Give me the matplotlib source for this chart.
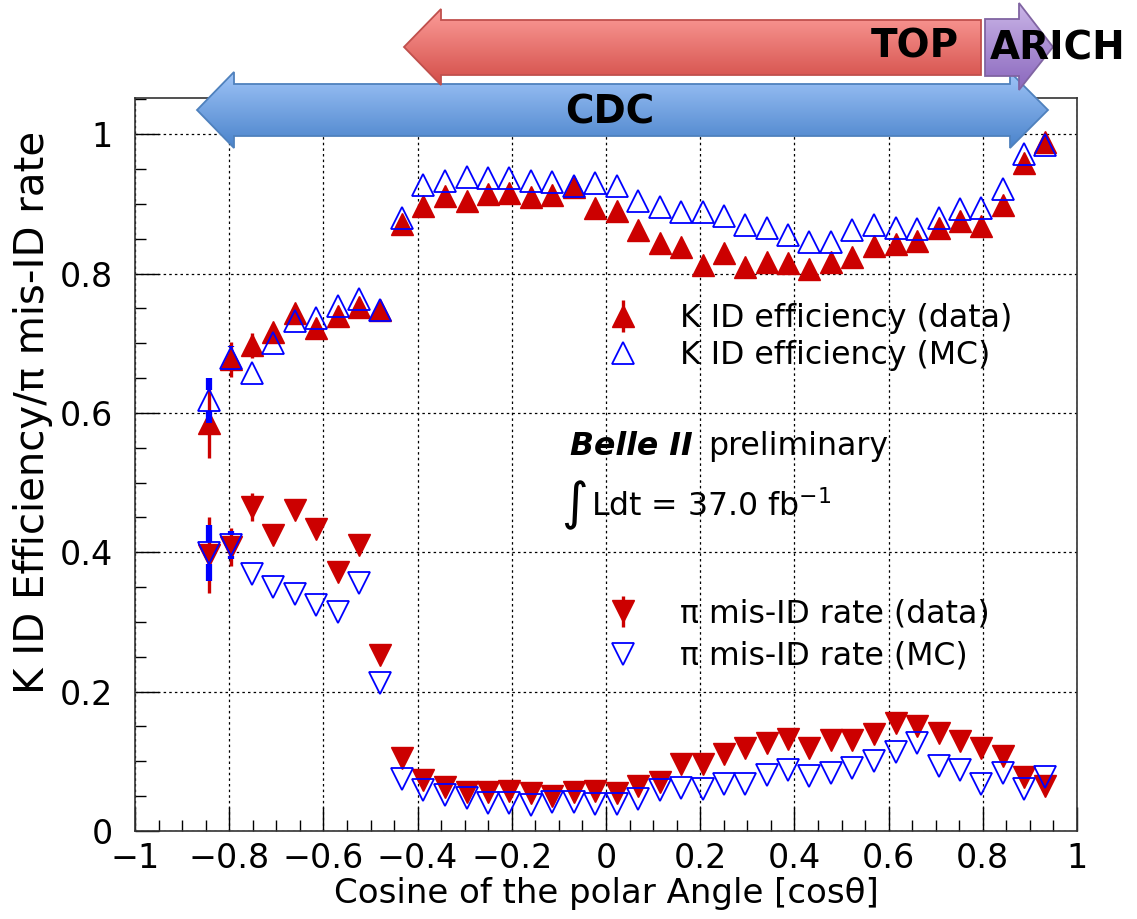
import numpy as np
import matplotlib
matplotlib.use('Agg')
import matplotlib.pyplot as plt
from matplotlib.patches import Polygon
from matplotlib.colors import LinearSegmentedColormap
from matplotlib.ticker import MultipleLocator

plt.rcParams['font.family'] = ['DejaVu Sans']
plt.rcParams['mathtext.fontset'] = 'dejavusans'

# bin centres in cos(theta)
cos_theta = [-0.843, -0.797, -0.752, -0.706, -0.661, -0.615, -0.570, -0.524, -0.479, -0.433,
             -0.388, -0.342, -0.296, -0.251, -0.205, -0.160, -0.114, -0.069, -0.023, 0.023,
             0.068, 0.114, 0.159, 0.205, 0.250, 0.296, 0.341, 0.387, 0.432, 0.478,
             0.523, 0.569, 0.615, 0.660, 0.706, 0.751, 0.797, 0.842, 0.888, 0.933]

k_eff_data = [0.586, 0.677, 0.697, 0.716, 0.743, 0.722, 0.739, 0.752, 0.748, 0.871,
              0.897, 0.912, 0.904, 0.914, 0.916, 0.910, 0.913, 0.924, 0.894, 0.890,
              0.862, 0.844, 0.838, 0.812, 0.830, 0.810, 0.816, 0.815, 0.806, 0.817,
              0.824, 0.839, 0.843, 0.847, 0.866, 0.876, 0.868, 0.899, 0.959, 0.989]
k_eff_data_err = [0.050, 0.025, 0.018, 0.010, 0.008, 0.008, 0.006, 0.006, 0.006, 0.005,
                  0.004, 0.004, 0.004, 0.004, 0.004, 0.004, 0.004, 0.004, 0.004, 0.004,
                  0.004, 0.004, 0.004, 0.004, 0.004, 0.004, 0.004, 0.004, 0.004, 0.004,
                  0.004, 0.004, 0.004, 0.004, 0.004, 0.004, 0.004, 0.004, 0.004, 0.004]

k_eff_mc = [0.618, 0.679, 0.658, 0.700, 0.732, 0.736, 0.754, 0.763, 0.748, 0.880,
            0.927, 0.933, 0.938, 0.937, 0.937, 0.933, 0.931, 0.926, 0.930, 0.926,
            0.904, 0.896, 0.889, 0.888, 0.882, 0.870, 0.866, 0.855, 0.846, 0.846,
            0.862, 0.870, 0.866, 0.864, 0.880, 0.893, 0.894, 0.922, 0.971, 0.985]
k_eff_mc_err = [0.032, 0.017, 0.010, 0.008, 0.006, 0.006, 0.005, 0.005, 0.005, 0.004,
                0.003, 0.003, 0.003, 0.003, 0.003, 0.003, 0.003, 0.003, 0.003, 0.003,
                0.003, 0.003, 0.003, 0.003, 0.003, 0.003, 0.003, 0.003, 0.003, 0.003,
                0.003, 0.003, 0.003, 0.003, 0.003, 0.003, 0.003, 0.003, 0.003, 0.003]

pi_misid_data = [0.396, 0.408, 0.465, 0.425, 0.461, 0.434, 0.372, 0.410, 0.253, 0.105,
                 0.073, 0.063, 0.056, 0.056, 0.057, 0.055, 0.050, 0.056, 0.057, 0.054,
                 0.064, 0.070, 0.096, 0.096, 0.110, 0.119, 0.127, 0.132, 0.119, 0.130,
                 0.130, 0.139, 0.155, 0.150, 0.140, 0.129, 0.119, 0.107, 0.078, 0.065]
pi_misid_data_err = [0.055, 0.027, 0.020, 0.012, 0.010, 0.010, 0.008, 0.008, 0.006, 0.004,
                     0.003, 0.003, 0.003, 0.003, 0.003, 0.003, 0.003, 0.003, 0.003, 0.003,
                     0.003, 0.003, 0.003, 0.003, 0.003, 0.003, 0.003, 0.003, 0.003, 0.003,
                     0.003, 0.003, 0.003, 0.003, 0.003, 0.003, 0.003, 0.003, 0.003, 0.003]

pi_misid_mc = [0.399, 0.410, 0.369, 0.350, 0.340, 0.324, 0.314, 0.356, 0.213, 0.075,
               0.059, 0.052, 0.047, 0.040, 0.040, 0.038, 0.041, 0.041, 0.039, 0.039,
               0.046, 0.059, 0.062, 0.060, 0.068, 0.068, 0.080, 0.088, 0.079, 0.083,
               0.090, 0.100, 0.113, 0.126, 0.094, 0.088, 0.068, 0.083, 0.060, 0.078]
pi_misid_mc_err = [0.040, 0.020, 0.010, 0.008, 0.006, 0.006, 0.005, 0.005, 0.005, 0.003,
                   0.002, 0.002, 0.002, 0.002, 0.002, 0.002, 0.002, 0.002, 0.002, 0.002,
                   0.002, 0.002, 0.002, 0.002, 0.002, 0.002, 0.002, 0.002, 0.002, 0.002,
                   0.002, 0.002, 0.002, 0.002, 0.002, 0.002, 0.002, 0.002, 0.002, 0.002]

x_ticks = [-1, -0.8, -0.6, -0.4, -0.2, 0, 0.2, 0.4, 0.6, 0.8, 1]
x_tick_labels = ['\u22121', '\u22120.8', '\u22120.6', '\u22120.4', '\u22120.2', '0',
                 '0.2', '0.4', '0.6', '0.8', '1']
y_ticks = [0, 0.2, 0.4, 0.6, 0.8, 1]
y_tick_labels = ['0', '0.2', '0.4', '0.6', '0.8', '1']

series_labels = ['K ID efficiency (data)', 'K ID efficiency (MC)',
                 '\u03c0 mis-ID rate (data)', '\u03c0 mis-ID rate (MC)']

W, H = 1137, 919
RED = '#cc0000'
BLUE = '#0000ff'


def fx(px):
    return px / W


def fy(py):
    return 1 - py / H


fig = plt.figure(figsize=(W / 100, H / 100), dpi=100)
ax = fig.add_axes([fx(135), fy(831), (1077 - 135) / W, (831 - 98) / H])

ms = 15.5
# half marker height in data units, error bars of open markers stop at the outline
gap = ms * 100 / 72 / 2 / (831 - 98) * 1.052


def open_errors(x, y, err, color, lw):
    for xi, yi, ei in zip(x, y, err):
        if ei > gap:
            ax.vlines([xi, xi], [yi + gap, yi - ei], [yi + ei, yi - gap],
                      color=color, lw=lw, zorder=4)


h_kd = ax.errorbar(cos_theta, k_eff_data, yerr=k_eff_data_err, fmt='^', ms=ms,
                   color=RED, mec=RED, elinewidth=2.4, capsize=0, zorder=3)
h_pd = ax.errorbar(cos_theta, pi_misid_data, yerr=pi_misid_data_err, fmt='v', ms=ms,
                   color=RED, mec=RED, elinewidth=2.4, capsize=0, zorder=3)
h_km, = ax.plot(cos_theta, k_eff_mc, '^', ms=ms, mfc='none', mec=BLUE, mew=1.3, zorder=4)
h_pm, = ax.plot(cos_theta, pi_misid_mc, 'v', ms=ms, mfc='none', mec=BLUE, mew=1.3, zorder=4)
open_errors(cos_theta, k_eff_mc, k_eff_mc_err, BLUE, 4.5)
open_errors(cos_theta, pi_misid_mc, pi_misid_mc_err, BLUE, 4.5)

ax.set_xlim(-1, 1)
ax.set_ylim(0, 1.052)
ax.set_xticks(x_ticks)
ax.set_xticklabels(x_tick_labels)
ax.set_yticks(y_ticks)
ax.set_yticklabels(y_tick_labels)
ax.xaxis.set_minor_locator(MultipleLocator(0.05))
ax.yaxis.set_minor_locator(MultipleLocator(0.05))
ax.tick_params(which='major', direction='in', length=17, width=1, labelsize=24)
ax.tick_params(which='minor', direction='in', length=8, width=1)
ax.tick_params(axis='y', pad=16)
ax.tick_params(axis='x', pad=8)
ax.grid(True, which='major', ls=(0, (2, 2.5)), color='black', lw=0.9)
ax.set_axisbelow(True)
for sp in ax.spines.values():
    sp.set_color('#333333')
    sp.set_linewidth(1.2)

fig.text(fx(33), fy(412), 'K ID Efficiency/\u03c0 mis-ID rate', rotation=90,
         ha='center', va='center', size=29)
fig.text(fx(606), fy(893), 'Cosine of the polar Angle [cos\u03b8]',
         ha='center', va='center', size=24.5)

leg_kw = dict(loc='center left', bbox_transform=fig.transFigure, frameon=False,
              fontsize=22.7, handlelength=1.0, handletextpad=1.3,
              borderpad=0, borderaxespad=0)
leg1 = ax.legend([h_kd, h_km], series_labels[:2], bbox_to_anchor=(fx(607), fy(337)),
                 labelspacing=0.2, **leg_kw)
ax.add_artist(leg1)
ax.legend([h_pd, h_pm], series_labels[2:], bbox_to_anchor=(fx(607), fy(635)),
          labelspacing=0.36, **leg_kw)

fig.text(fx(570), fy(455), 'Belle II', weight='bold', style='italic', size=22.7,
         va='baseline')
fig.text(fx(708), fy(455), 'preliminary', size=22.7, va='baseline')
fig.text(fx(561), fy(505), '\u222b', size=37, va='center')
fig.text(fx(591), fy(516), 'Ldt = 37.0 fb$^{-1}$', size=22.7, va='baseline')

# detector coverage arrows drawn in pixel space on top of everything
ov = fig.add_axes([0, 0, 1, 1], zorder=5)
ov.patch.set_alpha(0)


def gradient_arrow(pts, top, bottom, edge, z):
    poly = Polygon(pts, closed=True, fc='none', ec=edge, lw=1.3, zorder=z + 1)
    ov.add_patch(poly)
    xs = [p[0] for p in pts]
    ys = [p[1] for p in pts]
    cmap = LinearSegmentedColormap.from_list('grad', [top, bottom])
    grad = np.linspace(0, 1, 256).reshape(-1, 1)
    ov.imshow(grad, cmap=cmap, extent=(min(xs), max(xs), max(ys), min(ys)),
              aspect='auto', clip_path=poly, zorder=z, interpolation='bilinear')


gradient_arrow([(197, 110), (234, 72), (234, 84), (1010, 84), (1010, 72), (1048, 110),
                (1010, 148), (1010, 136), (234, 136), (234, 148)],
               '#9fc4f7', '#4a83cb', '#4f81bd', 1)
gradient_arrow([(404, 47), (441, 9), (441, 20), (981, 20), (981, 75), (441, 75),
                (441, 85)],
               '#fc9d99', '#d34d48', '#c0504d', 3)
gradient_arrow([(985, 19), (1019, 19), (1019, 3), (1053, 47), (1019, 90), (1019, 76),
                (985, 76)],
               '#cbb6e8', '#8a67bd', '#8064a2', 5)

ov.set_xlim(0, W)
ov.set_ylim(H, 0)
ov.axis('off')

det_kw = dict(weight='bold', size=28, ha='center', va='center', zorder=10)
ov.text(610, 112, 'CDC', **det_kw)
ov.text(915, 47, 'TOP', **det_kw)
ov.text(1058, 49, 'ARICH', **det_kw)

fig.savefig('out.png', dpi=100)
